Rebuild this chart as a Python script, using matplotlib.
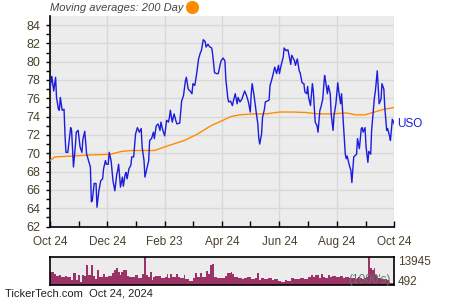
import numpy as np
import pandas as pd
import matplotlib
matplotlib.use("Agg")
import matplotlib.pyplot as plt
from matplotlib.lines import Line2D

plt.rcParams['font.family'] = ['Liberation Sans', 'DejaVu Sans']

# USO daily close (days after Oct 24 2023)
price_days = [0, 2, 4, 6, 7, 9, 10, 11, 13, 15, 16, 17, 19, 22, 23, 24, 25, 27, 28, 30,
              32, 34, 35, 37, 39, 41, 43, 44, 45, 47, 49, 50, 52, 54, 56, 57, 59, 60, 62, 63,
              65, 67, 69, 71, 72, 73, 75, 77, 78, 80, 81, 82, 84, 86, 87, 89, 91, 93, 95, 97,
              98, 100, 101, 103, 105, 106, 108, 110, 111, 113, 115, 117, 118, 120, 122, 124, 126, 127, 128, 130,
              132, 134, 135, 138, 140, 142, 144, 145, 147, 149, 151, 152, 154, 156, 158, 160, 161, 163, 165, 166,
              168, 170, 172, 173, 175, 177, 179, 181, 182, 184, 186, 187, 189, 190, 192, 194, 195, 197, 199, 200,
              202, 204, 206, 207, 209, 211, 213, 214, 215, 217, 219, 221, 222, 223, 225, 226, 228, 229, 231, 233,
              234, 236, 238, 239, 241, 243, 244, 246, 248, 249, 251, 253, 254, 256, 257, 260, 261, 263, 265, 266,
              268, 270, 271, 273, 274, 275, 277, 279, 280, 282, 284, 285, 287, 288, 290, 292, 293, 295, 296, 298,
              299, 301, 302, 304, 306, 307, 309, 310, 312, 314, 315, 316, 318, 320, 321, 323, 324, 326, 327, 329,
              331, 332, 333, 335, 336, 338, 339, 341, 342, 343, 345, 346, 348, 349, 350, 352, 353, 355, 356, 358,
              359, 361, 362, 364, 365, 366]
prices = [77.0, 78.4, 76.8, 78.3, 76.1, 74.8, 74.7, 76.1, 74.7, 74.8, 72.0, 70.1, 70.1, 72.8, 72.5, 70.5, 68.5, 70.8, 72.3, 72.5,
          70.7, 70.1, 71.5, 72.4, 69.9, 69.2, 68.5, 64.7, 64.8, 66.7, 66.7, 64.1, 65.9, 67.0, 67.2, 68.3, 69.2, 68.8, 68.8, 70.1,
          69.2, 67.0, 65.9, 67.7, 68.1, 68.8, 66.3, 67.4, 66.4, 67.7, 67.9, 67.2, 68.3, 68.7, 69.6, 69.6, 72.1, 72.8, 72.3, 72.7,
          70.7, 69.2, 67.4, 68.3, 69.2, 71.4, 71.6, 72.3, 71.6, 73.0, 73.2, 72.5, 73.4, 72.5, 71.9, 73.6, 73.4, 73.9, 74.7, 73.4,
          74.3, 73.5, 73.2, 73.3, 75.7, 76.3, 77.9, 78.3, 77.0, 76.8, 76.5, 77.6, 77.4, 78.7, 80.3, 81.0, 81.2, 82.4, 82.2, 81.6,
          81.9, 81.6, 81.5, 80.8, 78.8, 78.7, 78.7, 79.7, 80.1, 80.4, 80.1, 78.1, 76.1, 75.6, 75.7, 75.2, 75.7, 76.5, 75.4, 76.1,
          75.6, 75.9, 76.5, 76.8, 76.3, 75.6, 74.5, 76.5, 77.6, 76.3, 74.7, 73.2, 71.7, 71.0, 72.1, 73.9, 74.8, 75.6, 75.7, 75.8,
          77.4, 78.1, 79.0, 79.4, 78.7, 79.6, 78.7, 79.7, 80.5, 81.5, 81.2, 81.3, 80.8, 79.7, 80.7, 80.1, 79.6, 80.3, 79.0, 78.8,
          77.7, 77.6, 76.7, 76.5, 77.3, 76.1, 75.2, 77.6, 76.8, 73.4, 73.0, 72.3, 74.7, 75.0, 75.9, 78.5, 77.9, 76.5, 77.4, 76.5,
          74.3, 72.5, 74.1, 75.4, 77.7, 76.8, 75.4, 76.5, 73.2, 69.9, 69.4, 69.7, 68.8, 68.1, 66.8, 69.6, 69.7, 69.9, 71.6, 70.5,
          72.7, 72.8, 72.3, 72.8, 70.8, 69.0, 70.2, 69.9, 72.5, 73.7, 76.1, 76.8, 79.0, 77.2, 75.4, 75.9, 77.6, 77.0, 75.0, 72.5,
          72.7, 71.9, 71.4, 73.7, 73.5, 73.2]

# 200 day moving average
ma_days = [0, 5, 15, 26, 40, 55, 65, 76, 87, 111, 125, 143, 157, 171, 184, 192, 202, 216, 230, 244,
           258, 272, 285, 300, 315, 325, 335, 345, 355, 366]
ma_vals = [69.2, 69.6, 69.65, 69.7, 69.8, 69.85, 69.9, 70.2, 70.3, 70.3, 70.8, 71.4, 72.1, 73.0, 73.6, 74.0, 74.2, 74.3, 74.3, 74.5,
           74.5, 74.45, 74.3, 74.3, 74.4, 74.2, 74.2, 74.5, 74.8, 75.0]

# volume (1000's), one bar per two days
vol_days = list(range(0, 366, 2))
volume = [6800, 6800, 5700, 4760, 4760, 5230, 4440, 4440, 4760, 4130, 4130, 2860, 6020, 6020, 2860, 5230, 2070, 5230, 4760, 9970,
          5230, 5230, 9970, 4760, 3180, 7600, 4440, 4440, 5700, 4440, 4440, 4760, 4760, 6020, 7600, 8390, 6810, 5230, 6810, 7600,
          7600, 4760, 4130, 4130, 4130, 5230, 5230, 3650, 3650, 5700, 13945, 5230, 4440, 6500, 2860, 4130, 4760, 4760, 4760, 3650,
          3650, 4130, 5700, 3650, 5700, 4440, 4440, 5700, 4440, 3650, 3650, 5230, 3180, 3180, 2550, 2550, 3650, 6020, 4440, 4440,
          6340, 4440, 4440, 7290, 5700, 9970, 10450, 4130, 4130, 3650, 3650, 3650, 3650, 4760, 6340, 6020, 6810, 5700, 4130, 4130,
          3650, 3650, 3180, 3650, 3650, 4130, 4130, 3180, 3180, 3650, 6340, 2860, 3650, 3650, 3180, 3180, 3650, 3650, 2860, 3180,
          3180, 2550, 2550, 2070, 2070, 2860, 2550, 2550, 3650, 3650, 3180, 3180, 3180, 3650, 3650, 3180, 3180, 4130, 4130, 5230,
          4440, 5230, 5230, 3650, 5700, 4440, 3650, 3650, 5230, 4130, 4760, 4760, 4440, 4440, 4760, 4760, 3650, 4440, 4440, 3650,
          3650, 3650, 3180, 3650, 4130, 3650, 3180, 3650, 4130, 13945, 8390, 7600, 8390, 5230, 3650, 3650, 3180, 3180, 3180, 2860,
          2070, 1280, 1280]

tick_dates = ['2023-10-24', '2023-12-24', '2024-02-23', '2024-04-24', '2024-06-24', '2024-08-24', '2024-10-24']
tick_labels = ['Oct 24', 'Dec 24', 'Feb 23', 'Apr 24', 'Jun 24', 'Aug 24', 'Oct 24']
minor_dates = ['2023-11-24', '2024-01-24', '2024-03-24', '2024-05-24', '2024-07-24', '2024-09-24']

start = pd.Timestamp('2023-10-24')
to_dates = lambda d: start + pd.to_timedelta(d, unit='D')

txt = '#4a3f2a'
bg = '#ececec'
fig = plt.figure(figsize=(4.5, 3), dpi=100)

ax = fig.add_axes([0.111, 0.245, 0.765, 0.702])
ax.set_facecolor(bg)
ax.plot(to_dates(ma_days), ma_vals, color='#ff8c00', lw=1.0, zorder=3)
ax.plot(to_dates(price_days), prices, color='#1c1cdc', lw=1.0, zorder=4)
ax.set_xlim(start, to_dates(366))
ax.set_ylim(62, 85)
ax.set_yticks(np.arange(62, 85, 2))
ax.set_yticks(np.arange(63, 85, 2), minor=True)
ax.set_xticks(pd.to_datetime(tick_dates))
ax.set_xticklabels(tick_labels)
ax.set_xticks(pd.to_datetime(minor_dates), minor=True)
ax.grid(True, which='major', color='#d8d8d8', lw=1.0)
ax.set_axisbelow(True)
for s in ['top', 'right']:
    ax.spines[s].set_visible(False)
for s in ['left', 'bottom']:
    ax.spines[s].set_linewidth(1.2)
ax.tick_params(axis='y', which='both', direction='out', length=3, width=1, pad=4, labelsize=9, labelcolor=txt)
ax.tick_params(axis='x', which='both', direction='in', length=4, width=1, pad=7, labelsize=8.5, labelcolor=txt)
ax.text(1.008, prices[-1], 'USO', transform=ax.get_yaxis_transform(), color='#1c1cdc',
        fontsize=8.5, va='center', ha='left')

vax = fig.add_axes([0.111, 0.05, 0.765, 0.094])
vax.set_facecolor(bg)
vax.bar(to_dates(vol_days), volume, width=2.0, color='#9c3366', align='edge', lw=0)
vax.set_xlim(start, to_dates(366))
vax.set_ylim(492, 13945)
vax.set_xticks([])
vax.set_yticks([])
for s in vax.spines.values():
    s.set_linewidth(1.2)
vax.text(1.01, 0.82, '13945', transform=vax.transAxes, fontsize=8.5, color=txt, va='center', ha='left')
vax.text(1.01, 0.1, '492', transform=vax.transAxes, fontsize=8.5, color=txt, va='center', ha='left')
vax.text(0.99, 0.17, "(1000's)", transform=vax.transAxes, fontsize=8.5, color='#5c7a6a', va='center', ha='right')

fig.text(0.111, 0.972, 'Moving averages: 200 Day', fontsize=8, style='italic', color='#444444', va='center', ha='left')
fig.add_artist(Line2D([0.426], [0.977], marker='o', ms=8.5, color='#ff8c00', lw=0, transform=fig.transFigure))
fig.text(0.011, 0.02, 'TickerTech.com  Oct 24, 2024', fontsize=8, color='#222222', va='center', ha='left')

fig.savefig('out.png', dpi=100)
